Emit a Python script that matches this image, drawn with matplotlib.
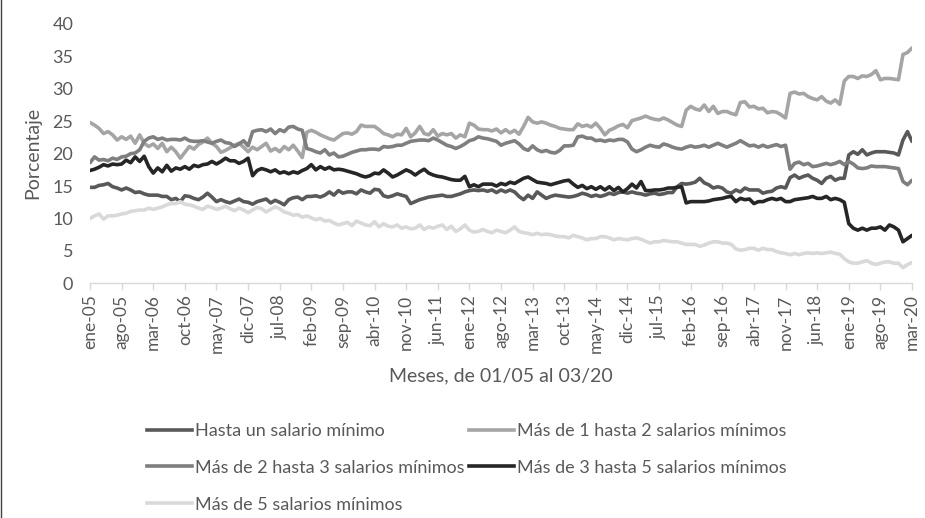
import numpy as np
import matplotlib.pyplot as plt
from matplotlib.lines import Line2D

plt.rcParams['font.family'] = ['Lato', 'DejaVu Sans']

# Porcentaje mensual de ocupados por nivel de ingreso, ene-05 a mar-20
hasta_1 = [
    14.8, 14.8, 15.1, 15.2, 15.4, 14.9, 14.7, 14.4, 14.7, 14.4, 14.0, 14.1,
    13.8, 13.6, 13.6, 13.6, 13.4, 13.4, 12.9, 13.1, 12.6, 13.5, 13.4, 13.1,
    12.9, 13.3, 13.9, 13.3, 12.6, 12.9, 12.6, 12.4, 12.7, 13.0, 12.6, 12.5,
    12.2, 12.6, 12.8, 13.0, 12.4, 12.8, 12.5, 12.1, 12.9, 13.2, 13.3, 12.9,
    13.4, 13.4, 13.5, 13.3, 13.6, 14.1, 13.6, 14.3, 13.9, 14.1, 14.1, 13.8,
    14.4, 14.1, 13.9, 14.5, 14.4, 13.5, 13.3, 13.5, 13.8, 13.6, 13.4, 12.3,
    12.6, 12.9, 13.1, 13.3, 13.4, 13.5, 13.6, 13.4, 13.4, 13.6, 13.8, 14.1,
    14.3, 14.4, 14.3, 14.4, 14.2, 14.4, 14.0, 14.4, 14.1, 14.4, 14.1, 13.4,
    12.9, 13.6, 13.1, 14.1, 13.6, 13.1, 13.4, 13.6, 13.5, 13.4, 13.3, 13.4,
    13.6, 13.9, 13.7, 13.4, 13.6, 13.4, 13.6, 13.9, 13.7, 14.0, 14.1, 13.9,
    14.1, 13.9, 13.8, 13.6, 13.8, 13.9, 13.7, 13.8, 14.0, 14.0, 14.9, 15.4,
    15.3, 15.4, 15.6, 16.2, 15.5, 15.2, 14.7, 14.9, 14.7, 14.1, 13.9, 14.4,
    14.1, 14.7, 14.4, 14.4, 14.4, 13.9, 14.1, 14.2, 14.7, 14.9, 14.7, 16.3,
    16.7, 16.2, 16.5, 16.7, 16.2, 15.9, 15.4, 16.2, 16.5, 15.9, 16.2, 16.2,
    19.8, 20.3, 19.9, 20.6, 19.8, 20.1, 20.3, 20.3, 20.3, 20.2, 20.1, 19.8,
    22.1, 23.4, 21.9,
]

mas_1_2 = [
    24.8, 24.4, 23.9, 23.1, 23.4, 22.9, 22.1, 22.6, 22.2, 22.7, 21.6, 22.9,
    21.6, 21.1, 21.5, 20.8, 21.6, 20.3, 21.0, 20.3, 19.3, 20.2, 21.1, 20.7,
    21.4, 21.8, 22.4, 21.6, 21.1, 20.2, 20.5, 20.9, 21.3, 21.6, 21.0, 20.3,
    21.0, 20.6, 21.1, 21.6, 20.4, 20.8, 20.3, 21.1, 20.6, 21.3, 20.4, 19.4,
    23.3, 23.6, 23.3, 22.9, 22.6, 22.3, 22.1, 22.6, 23.1, 23.2, 23.0, 23.4,
    24.4, 24.2, 24.2, 24.2, 23.7, 23.1, 22.9, 22.6, 23.0, 22.9, 23.9, 22.6,
    23.2, 24.2, 23.1, 22.9, 23.7, 22.7, 23.1, 22.9, 23.1, 22.4, 22.9, 22.6,
    24.7, 24.4, 23.8, 23.7, 23.7, 23.5, 23.8, 23.2, 23.7, 23.2, 23.6, 23.0,
    24.2, 25.6, 24.9, 24.7, 24.9, 24.7, 24.4, 24.2, 23.9, 23.8, 23.7, 23.7,
    24.6, 24.2, 24.4, 24.1, 24.7, 23.9, 22.9, 23.6, 23.9, 24.3, 24.5, 24.0,
    25.1, 25.3, 25.5, 25.8, 25.5, 25.3, 25.2, 25.5, 25.2, 24.8, 24.4, 24.2,
    26.7, 27.3, 26.9, 26.7, 27.5, 26.5, 27.3, 26.2, 26.5, 26.5, 26.2, 26.0,
    27.9, 28.0, 27.2, 27.3, 26.9, 27.0, 26.3, 26.5, 26.4, 26.0, 25.5, 29.3,
    29.5, 29.2, 29.3, 28.8, 28.5, 28.3, 28.8, 28.1, 27.8, 28.3, 27.6, 31.2,
    31.9, 31.9, 31.6, 32.0, 31.9, 32.2, 32.8, 31.4, 31.6, 31.6, 31.5, 31.4,
    35.3, 35.6, 36.3,
]

mas_2_3 = [
    18.6, 19.5, 19.0, 19.1, 18.9, 19.3, 19.1, 19.5, 19.6, 20.0, 20.1, 20.6,
    21.9, 22.4, 22.6, 22.2, 22.4, 22.1, 22.2, 22.2, 22.1, 22.4, 22.0, 21.9,
    21.9, 22.0, 21.8, 21.6, 21.9, 22.1, 21.7, 21.6, 21.1, 21.5, 22.0, 21.2,
    23.4, 23.6, 23.7, 23.4, 23.8, 23.1, 23.7, 23.4, 24.1, 24.2, 23.8, 23.6,
    20.8, 20.6, 20.3, 20.1, 20.6, 19.8, 20.1, 19.5, 19.6, 19.9, 20.2, 20.4,
    20.6, 20.6, 20.7, 20.7, 20.6, 21.1, 21.0, 21.1, 21.3, 21.3, 21.6, 21.9,
    22.0, 22.1, 22.1, 22.0, 22.4, 22.1, 21.7, 21.3, 21.1, 20.8, 21.1, 21.5,
    22.0, 22.2, 22.6, 22.4, 22.3, 22.1, 21.9, 21.3, 21.6, 21.8, 22.0, 21.5,
    20.8, 20.5, 21.2, 20.6, 20.3, 20.5, 20.2, 20.1, 20.5, 21.2, 21.2, 21.3,
    22.6, 22.7, 22.4, 22.4, 22.0, 22.1, 21.9, 22.1, 22.0, 22.2, 22.2, 21.8,
    20.7, 20.3, 20.6, 21.0, 21.3, 21.1, 21.0, 21.5, 21.3, 21.0, 20.8, 20.7,
    21.0, 21.2, 21.0, 21.1, 21.3, 21.0, 21.3, 21.6, 21.3, 21.0, 21.3, 21.6,
    22.0, 21.6, 21.2, 21.3, 21.0, 21.3, 21.0, 21.2, 21.4, 21.1, 21.3, 17.6,
    18.5, 18.7, 18.3, 18.5, 18.0, 18.1, 18.3, 18.5, 18.3, 18.5, 18.8, 18.3,
    18.8, 18.4, 17.8, 17.7, 17.8, 18.1, 18.0, 18.0, 18.0, 17.9, 17.8, 17.7,
    15.7, 15.2, 15.9,
]

mas_3_5 = [
    17.4, 17.6, 17.9, 18.3, 18.1, 18.4, 18.3, 18.4, 19.0, 18.6, 19.5, 18.8,
    19.6, 18.0, 17.0, 17.8, 17.2, 18.2, 17.3, 17.8, 17.6, 18.0, 17.6, 18.2,
    18.0, 18.3, 18.4, 18.8, 18.4, 18.8, 19.3, 18.9, 18.9, 18.5, 18.8, 19.3,
    16.6, 17.4, 17.7, 17.5, 17.2, 17.5, 17.0, 17.2, 16.9, 17.2, 17.0, 17.4,
    17.7, 18.3, 17.5, 18.0, 17.6, 17.9, 17.5, 17.6, 17.5, 17.3, 17.1, 16.9,
    16.6, 16.4, 16.6, 17.0, 16.9, 17.5, 17.0, 16.4, 16.7, 17.1, 17.5, 17.2,
    16.7, 17.2, 17.6, 17.0, 16.7, 16.5, 16.4, 16.2, 16.0, 15.9, 15.9, 16.5,
    14.9, 15.2, 14.9, 15.3, 15.3, 15.3, 15.0, 15.4, 15.2, 15.6, 15.4, 15.8,
    16.2, 16.4, 16.0, 15.6, 15.5, 15.4, 15.2, 15.4, 15.6, 15.8, 15.9, 15.3,
    14.8, 15.1, 14.6, 14.9, 14.5, 14.9, 14.4, 14.9, 14.3, 14.8, 14.1, 14.6,
    15.3, 14.7, 15.7, 14.3, 14.3, 14.4, 14.4, 14.5, 14.7, 14.7, 14.8, 14.9,
    12.4, 12.6, 12.6, 12.6, 12.6, 12.7, 12.9, 13.0, 13.1, 13.3, 13.4, 12.6,
    13.1, 12.9, 13.0, 12.3, 12.6, 12.6, 12.9, 13.1, 12.9, 13.1, 12.6, 12.6,
    12.9, 13.0, 13.1, 13.2, 13.4, 13.1, 13.1, 13.4, 12.9, 13.1, 12.9, 12.5,
    9.2, 8.5, 8.2, 8.5, 8.2, 8.5, 8.5, 8.7, 8.2, 9.0, 8.7, 8.2,
    6.4, 6.9, 7.4,
]

mas_5 = [
    10.0, 10.4, 10.7, 9.9, 10.4, 10.4, 10.5, 10.7, 10.8, 11.1, 11.2, 11.3,
    11.3, 11.6, 11.4, 11.6, 11.8, 12.1, 12.3, 12.3, 12.6, 12.2, 12.1, 11.9,
    11.6, 11.4, 11.9, 11.7, 11.4, 11.6, 11.9, 11.5, 11.2, 11.6, 11.3, 10.9,
    11.3, 11.7, 11.5, 11.0, 11.4, 11.8, 11.5, 11.0, 10.8, 10.5, 10.6, 10.2,
    10.4, 10.1, 9.8, 10.0, 9.6, 9.7, 9.3, 9.0, 9.2, 9.4, 8.9, 9.6,
    9.3, 9.0, 8.9, 9.5, 8.7, 9.2, 8.8, 8.7, 9.0, 8.5, 8.7, 8.4,
    8.5, 9.0, 8.3, 8.7, 8.5, 8.8, 9.0, 8.3, 8.8, 8.0, 8.4, 9.0,
    8.2, 7.9, 8.0, 8.3, 8.0, 7.8, 8.2, 8.0, 7.8, 8.2, 8.7, 8.0,
    7.8, 7.7, 7.5, 7.7, 7.5, 7.6, 7.5, 7.3, 7.2, 7.2, 7.0, 7.4,
    7.2, 7.0, 6.7, 6.9, 6.9, 7.2, 7.2, 7.0, 6.7, 6.9, 6.8, 6.7,
    6.9, 7.0, 6.8, 6.5, 6.2, 6.4, 6.4, 6.6, 6.5, 6.4, 6.4, 6.2,
    6.0, 6.0, 6.0, 5.7, 5.9, 6.2, 6.4, 6.4, 6.2, 6.2, 6.0, 5.3,
    5.1, 5.2, 5.4, 5.4, 5.1, 5.4, 5.2, 5.2, 4.9, 4.7, 4.6, 4.4,
    4.6, 4.4, 4.6, 4.7, 4.6, 4.7, 4.6, 4.7, 4.8, 4.6, 4.5, 3.8,
    3.3, 3.1, 3.1, 3.3, 3.5, 3.1, 2.9, 3.1, 3.3, 3.3, 3.1, 3.1,
    2.4, 2.9, 3.2,
]

tick_labels = [
    'ene-05', 'ago-05', 'mar-06', 'oct-06', 'may-07', 'dic-07', 'jul-08',
    'feb-09', 'sep-09', 'abr-10', 'nov-10', 'jun-11', 'ene-12', 'ago-12',
    'mar-13', 'oct-13', 'may-14', 'dic-14', 'jul-15', 'feb-16', 'sep-16',
    'abr-17', 'nov-17', 'jun-18', 'ene-19', 'ago-19', 'mar-20',
]

series = [
    ('Hasta un salario mínimo', hasta_1, '#595959'),
    ('Más de 1 hasta 2 salarios mínimos', mas_1_2, '#A5A5A5'),
    ('Más de 2 hasta 3 salarios mínimos', mas_2_3, '#7F7F7F'),
    ('Más de 3 hasta 5 salarios mínimos', mas_3_5, '#262626'),
    ('Más de 5 salarios mínimos', mas_5, '#D9D9D9'),
]

text_gray = '#595959'
lw = 2.6

fig = plt.figure(figsize=(9.25, 5.18), dpi=100)
ax = fig.add_axes([90 / 925, 1 - 283.3 / 518, (912 - 90) / 925, (283.3 - 24) / 518])

handles = {}
for name, vals, col in series:
    x = np.arange(len(vals))
    ln, = ax.plot(x, vals, color=col, lw=lw, solid_joinstyle='round',
                  solid_capstyle='round', label=name)
    handles[name] = ln

ax.set_xlim(0, len(hasta_1) - 1)
ax.set_ylim(0, 40)
ax.set_yticks(range(0, 41, 5))
ax.set_xticks(np.arange(0, len(hasta_1), 7))
ax.set_xticklabels(tick_labels, rotation=90)

for s in ['top', 'right', 'left']:
    ax.spines[s].set_visible(False)
ax.spines['bottom'].set_color('#D9D9D9')
ax.spines['bottom'].set_linewidth(1)

ax.tick_params(axis='x', length=5, width=1, color='#D9D9D9', labelsize=12.5,
               labelcolor=text_gray, pad=3)
ax.tick_params(axis='y', length=0, labelsize=13, labelcolor=text_gray, pad=12)

fig.text(501 / 925, 1 - 376 / 518, 'Meses, de 01/05 al 03/20', ha='center',
         va='center', fontsize=14, color=text_gray)
fig.text(33 / 925, 1 - 153 / 518, 'Porcentaje', ha='center', va='center',
         rotation=90, fontsize=14, color=text_gray)

# orden por filas como en la leyenda original
order = [series[0][0], series[2][0], series[4][0], series[1][0], series[3][0]]
leg_handles = [Line2D([], [], color=handles[n].get_color(), lw=lw) for n in order]
fig.legend(leg_handles, order, loc='upper left', bbox_to_anchor=(147 / 925, 1 - 423 / 518),
           ncol=2, frameon=False, fontsize=13, handlelength=2.5, handletextpad=0.15,
           columnspacing=0.25, labelspacing=1.15, borderpad=0, borderaxespad=0,
           labelcolor=text_gray)

# borde izquierdo del recuadro del gráfico
fig.add_artist(Line2D([0.0015, 0.0015], [0, 1], transform=fig.transFigure,
                      color='#404040', lw=1))

fig.savefig('out.png', dpi=100)
